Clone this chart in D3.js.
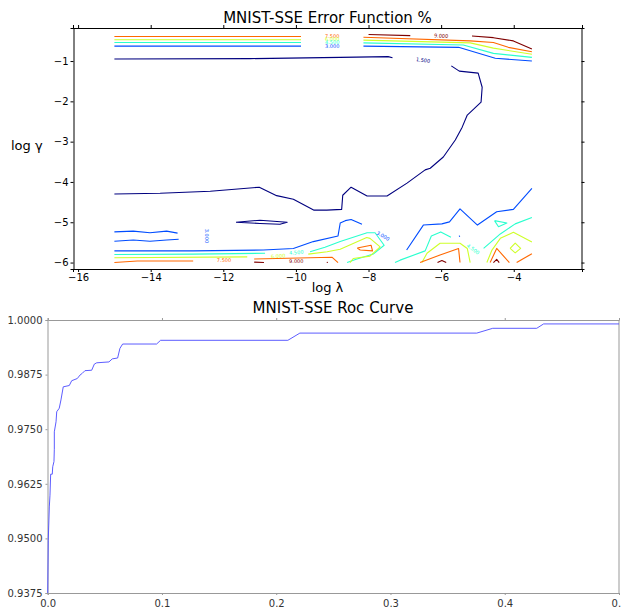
<!DOCTYPE html>
<html>
<head>
<meta charset="utf-8">
<script src="https://cdn.jsdelivr.net/npm/d3@7"></script>
<style>
  body { margin: 0; background: #fff; }
  svg { font-family: "DejaVu Sans", sans-serif; }
</style>
</head>
<body>
<svg id="chart" width="621" height="612"></svg>
<script>
// contour levels and their jet colours
const levels = [1.5, 3.0, 4.5, 6.0, 7.5, 9.0];
const levelColors = ['#00007f', '#004cff', '#29ffce', '#ceff29', '#ff6800', '#7f0000'];

// contour paths, [log lambda, log gamma]
const lines15 = [
  [[-15.0, -0.95], [-11.26, -0.94], [-8.78, -0.91], [-7.46, -0.89], [-7.34, -0.92]],
  [[-5.72, -1.12], [-5.50, -1.25], [-4.98, -1.30], [-4.87, -1.65], [-4.90, -2.02], [-5.28, -2.34], [-5.42, -2.64],
   [-5.61, -2.96], [-5.94, -3.38], [-6.30, -3.66], [-6.44, -3.70], [-6.94, -4.03], [-7.49, -4.35], [-8.04, -4.35],
   [-8.48, -4.13], [-8.71, -4.33], [-8.74, -4.68], [-9.15, -4.70], [-9.50, -4.70], [-10.07, -4.43], [-10.53, -4.34],
   [-11.01, -4.13], [-12.36, -4.23], [-13.74, -4.28], [-15.0, -4.30]],
  [[-11.65, -5.0], [-10.99, -4.95], [-10.24, -5.0], [-10.44, -5.05], [-10.99, -5.03], [-11.65, -5.0]]
];
const lines30 = [
  [[-15.0, -0.63], [-9.86, -0.63]],
  [[-8.14, -0.63], [-5.52, -0.66], [-4.51, -0.93], [-3.50, -1.0]],
  [[-15.0, -5.24], [-14.48, -5.22], [-14.02, -5.26], [-13.56, -5.22], [-13.26, -5.27]],
  [[-15.0, -5.47], [-14.48, -5.44], [-14.02, -5.47], [-13.56, -5.44], [-13.23, -5.42]],
  [[-15.0, -5.71], [-12.83, -5.71], [-10.90, -5.69], [-10.07, -5.65], [-9.52, -5.48], [-8.84, -5.34], [-8.78, -5.02],
   [-8.64, -4.96], [-8.48, -4.93], [-8.18, -5.05]],
  [[-6.95, -5.69], [-6.49, -5.07], [-5.98, -5.04], [-5.77, -4.99], [-5.48, -4.67], [-5.00, -5.07], [-4.47, -4.74],
   [-4.01, -4.68], [-3.50, -4.16]],
  [[-5.50, -5.33], [-5.49, -5.36]]
];
const lines45 = [
  [[-15.0, -0.54], [-9.86, -0.54]],
  [[-8.14, -0.55], [-5.39, -0.60], [-4.56, -0.81], [-3.50, -0.91]],
  [[-15.0, -5.80], [-12.83, -5.79], [-10.85, -5.77]],
  [[-9.61, -5.73], [-9.20, -5.62], [-8.78, -5.48], [-8.04, -5.26], [-7.82, -5.26], [-7.57, -5.57], [-7.87, -5.79],
   [-8.34, -5.92], [-8.59, -6.0]],
  [[-7.27, -6.0], [-7.13, -5.94], [-6.44, -5.71], [-6.27, -5.34], [-6.01, -5.24], [-5.73, -5.37]],
  [[-4.83, -5.65], [-4.37, -5.29], [-3.96, -5.04], [-3.50, -4.88]],
  [[-4.53, -4.96], [-4.19, -5.02], [-4.42, -5.11], [-4.53, -4.96]]
];
const lines60 = [
  [[-15.0, -0.47], [-9.86, -0.47]],
  [[-8.14, -0.48], [-5.20, -0.55], [-4.56, -0.68], [-3.50, -0.83]],
  [[-15.0, -5.88], [-11.34, -5.86]],
  [[-9.66, -5.79], [-9.14, -5.73], [-8.78, -5.67], [-8.05, -5.38], [-7.96, -5.40], [-7.68, -5.61], [-7.96, -5.84],
   [-8.42, -5.90], [-8.51, -6.0]],
  [[-6.53, -6.0], [-6.39, -5.77], [-6.03, -5.52], [-5.48, -5.52], [-5.28, -5.65], [-5.20, -6.0]],
  [[-4.74, -6.0], [-4.60, -5.69], [-4.37, -5.40], [-4.01, -5.25], [-3.50, -5.49]],
  [[-4.10, -5.65], [-3.96, -5.52], [-3.81, -5.65], [-3.96, -5.76], [-4.10, -5.65]]
];
const lines75 = [
  [[-15.0, -0.39], [-9.86, -0.39]],
  [[-8.14, -0.41], [-5.20, -0.50], [-4.56, -0.54], [-4.15, -0.66], [-3.50, -0.77]],
  [[-15.0, -6.0], [-14.37, -5.96], [-12.83, -5.96]],
  [[-11.15, -5.91], [-9.0, -5.87], [-8.84, -6.0]],
  [[-8.31, -5.64], [-7.93, -5.57], [-7.89, -5.71], [-8.23, -5.69], [-8.31, -5.64]],
  [[-6.58, -6.0], [-6.03, -5.81], [-5.52, -5.65], [-5.48, -6.0]],
  [[-4.65, -6.0], [-4.47, -5.65], [-4.12, -6.0]],
  [[-3.92, -6.0], [-3.50, -5.78]]
];
const lines90 = [
  [[-8.0, -0.34], [-6.85, -0.37]],
  [[-5.15, -0.38], [-4.56, -0.42], [-4.01, -0.50], [-3.50, -0.70]],
  [[-11.15, -5.99], [-10.88, -6.0]],
  [[-9.15, -5.99], [-9.12, -6.0]],
  [[-6.10, -6.0], [-5.98, -5.95], [-5.86, -6.0]],
  [[-4.56, -6.0], [-4.47, -5.92], [-4.40, -6.0]]
];
// inline labels: level, x, y, angle
const contourLabels = [
  [7.5, -9.0, -0.385, 0], [6.0, -9.0, -0.465, 0], [4.5, -9.0, -0.545, 0], [3.0, -9.0, -0.63, 0],
  [9.0, -6.0, -0.375, 3], [1.5, -6.5, -0.98, 8],
  [3.0, -12.45, -5.34, 90], [7.5, -11.98, -5.94, 0], [6.0, -10.49, -5.84, -4], [4.5, -9.99, -5.75, -5],
  [9.0, -9.99, -5.98, 0], [3.0, -7.60, -5.34, 30], [4.5, -5.12, -5.67, 35]
];
const contourX = [-16, -14, -12, -10, -8, -6, -4];
const contourY = [-1, -2, -3, -4, -5, -6];

// ROC curve
const rocFpr = [0, 0.0005, 0.0014, 0.002, 0.0026, 0.004, 0.0044, 0.0055, 0.0058, 0.0058, 0.0073, 0.0079, 0.0101,
  0.0116, 0.0136, 0.0189, 0.021, 0.0259, 0.0283, 0.0303, 0.0326, 0.0385, 0.0408, 0.0429, 0.0536, 0.0565, 0.0612,
  0.0632, 0.0656, 0.0953, 0.0988, 0.2102, 0.2207, 0.3755, 0.3895, 0.428, 0.434, 0.5];
const rocTpr = [0.9375, 0.9496, 0.9572, 0.9599, 0.9647, 0.9647, 0.9664, 0.9676, 0.9704, 0.9744, 0.9767, 0.9790,
  0.9798, 0.9817, 0.9847, 0.9850, 0.9861, 0.9866, 0.9874, 0.9878, 0.9884, 0.9885, 0.9899, 0.9902, 0.9904, 0.9911,
  0.9913, 0.9935, 0.9945, 0.9945, 0.99535, 0.99535, 0.9970, 0.9970, 0.9981, 0.9981, 0.9991, 0.9991];
const rocX = [0.0, 0.1, 0.2, 0.3, 0.4, 0.5];
const rocY = [0.9375, 0.95, 0.9625, 0.975, 0.9875, 1.0];

const svg = d3.select('#chart');
const minus = s => s.replace('-', '\u2212');

// ---------- contour plot ----------
const x1 = d3.scaleLinear().domain([-16.14, -2.12]).range([73, 582]);
const y1 = d3.scaleLinear().domain([-0.18, -6.16]).range([28, 269]);

const gTop = svg.append('g');

gTop.append('text')
  .attr('x', 327.5).attr('y', 22.5)
  .attr('text-anchor', 'middle')
  .style('font-size', '15px')
  .text('MNIST-SSE Error Function %');

const contourTable = [lines15, lines30, lines45, lines60, lines75, lines90]
  .flatMap((ls, i) => ls.map(pts => ({ level: levels[i], color: levelColors[i], pts })));

const line1 = d3.line().x(d => x1(d[0])).y(d => y1(d[1]));

gTop.append('g').selectAll('path')
  .data(contourTable)
  .join('path')
    .attr('d', d => line1(d.pts))
    .attr('fill', 'none')
    .attr('stroke', d => d.color)
    .attr('stroke-width', 1.1)
    .attr('stroke-linejoin', 'round');

gTop.append('g').selectAll('text')
  .data(contourLabels)
  .join('text')
    .attr('transform', d => `translate(${x1(d[1])},${y1(d[2])}) rotate(${d[3]})`)
    .attr('text-anchor', 'middle')
    .attr('dy', '0.35em')
    .attr('fill', d => levelColors[levels.indexOf(d[0])])
    .style('font-size', '5px')
    .text(d => d[0].toFixed(3));

const ax1 = gTop.append('g').style('font-size', '6.5px');
ax1.append('g')
  .attr('transform', 'translate(0,269)')
  .call(d3.axisBottom(x1).tickValues(contourX).tickSize(3).tickPadding(2).tickFormat(d => minus(String(d))));
ax1.append('g')
  .attr('transform', 'translate(0,28)')
  .call(d3.axisTop(x1).tickValues(contourX).tickSize(3).tickFormat(''));
ax1.append('g')
  .attr('transform', 'translate(73.5,0)')
  .call(d3.axisLeft(y1).tickValues(contourY).tickSize(3).tickPadding(2).tickFormat(d => minus(String(d))));
ax1.append('g')
  .attr('transform', 'translate(581.5,0)')
  .call(d3.axisRight(y1).tickValues(contourY).tickSize(3).tickFormat(''));
ax1.selectAll('.domain').attr('stroke', '#000');
ax1.selectAll('text').attr('fill', '#000').style('font-family', '"DejaVu Sans", sans-serif');

gTop.append('text')
  .attr('x', 327.5).attr('y', 292)
  .attr('text-anchor', 'middle')
  .style('font-size', '13px')
  .text('log λ');
gTop.append('text')
  .attr('x', 11).attr('y', 150)
  .style('font-size', '13px')
  .text('log γ');

// ---------- ROC curve ----------
const x2 = d3.scaleLinear().domain([0, 0.5]).range([47.7, 619]);
const y2 = d3.scaleLinear().domain([0.9375, 1.0]).range([593, 320]);

const gBot = svg.append('g');

gBot.append('text')
  .attr('x', 333).attr('y', 313)
  .attr('text-anchor', 'middle')
  .style('font-size', '15px')
  .text('MNIST-SSE Roc Curve');

const ax2 = gBot.append('g').style('font-size', '7.6px');
ax2.append('g')
  .attr('transform', 'translate(0,593)')
  .call(d3.axisBottom(x2).tickValues(rocX).tickSize(2).tickPadding(5).tickFormat(d3.format('.1f')));
ax2.append('g')
  .attr('transform', 'translate(0,320)')
  .call(d3.axisTop(x2).tickValues(rocX).tickSize(2).tickFormat(''));
ax2.append('g')
  .attr('transform', 'translate(47.5,0)')
  .call(d3.axisLeft(y2).tickValues(rocY).tickSize(2).tickPadding(3).tickFormat(d3.format('.4f')));
ax2.append('g')
  .attr('transform', 'translate(618.5,0)')
  .call(d3.axisRight(y2).tickValues(rocY).tickSize(0).tickFormat(''));
ax2.selectAll('.domain').attr('stroke', '#999');
ax2.selectAll('.tick line').attr('stroke', '#999');
ax2.selectAll('text').attr('fill', '#333').style('font-family', '"DejaVu Sans", sans-serif');

gBot.append('path')
  .datum(d3.zip(rocFpr, rocTpr))
  .attr('d', d3.line().x(d => x2(d[0])).y(d => y2(d[1])))
  .attr('fill', 'none')
  .attr('stroke', '#4a4aff')
  .attr('stroke-width', 0.9);
</script>
</body>
</html>
